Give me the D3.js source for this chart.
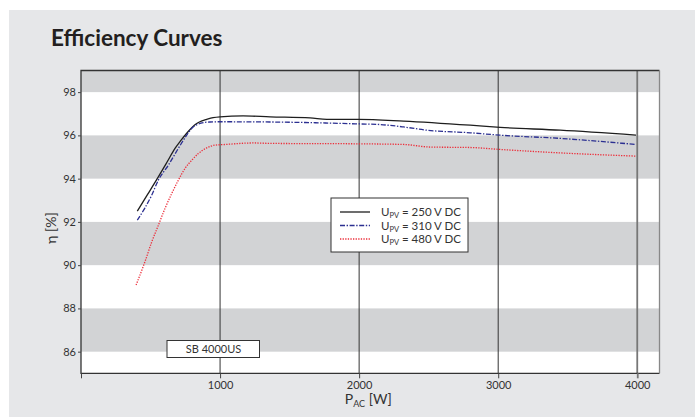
<!DOCTYPE html>
<html>
<head>
<meta charset="utf-8">
<script src="https://cdn.jsdelivr.net/npm/d3@7"></script>
<style>
  html, body { margin: 0; padding: 0; background: #fff; }
  svg { display: block; }
</style>
</head>
<body>
<svg id="chart" width="695" height="417"></svg>
<script>
// ─── Data ───────────────────────────────────────────────────────────────────
const xTicks = [0, 1000, 2000, 3000, 4000];
const yTicks = [86, 88, 90, 92, 94, 96, 98];
const grayBands = [[98, 99], [94, 96], [90, 92], [86, 88]];

const power250 = [405, 480, 556, 620, 676, 720, 760, 800, 832, 870, 904, 950, 1000, 1165, 1360, 1647, 1768, 1995, 2319, 2799, 3014, 3446, 3991];
const eta250   = [92.50, 93.28, 94.08, 94.78, 95.40, 95.78, 96.10, 96.38, 96.55, 96.67, 96.74, 96.82, 96.86, 96.90, 96.86, 96.81, 96.74, 96.74, 96.66, 96.47, 96.37, 96.24, 96.01];

const power310 = [405, 460, 509, 556, 628, 700, 760, 800, 844, 890, 928, 1000, 1360, 1995, 2151, 2319, 2487, 2799, 3014, 3446, 3991];
const eta310   = [92.08, 92.65, 93.24, 93.93, 94.62, 95.40, 96.01, 96.35, 96.52, 96.60, 96.62, 96.63, 96.62, 96.53, 96.50, 96.39, 96.24, 96.12, 96.01, 95.86, 95.58];

const power480 = [396, 460, 509, 556, 604, 653, 700, 748, 796, 844, 904, 964, 1036, 1240, 1360, 1995, 2319, 2511, 2799, 3014, 3446, 3991];
const eta480   = [89.08, 90.16, 91.08, 91.84, 92.62, 93.32, 93.93, 94.47, 94.85, 95.16, 95.42, 95.55, 95.58, 95.65, 95.63, 95.61, 95.58, 95.46, 95.44, 95.35, 95.19, 95.04];

const seriesNames = ['250 V DC', '310 V DC', '480 V DC'];

// ─── Layout ─────────────────────────────────────────────────────────────────
const W = 695, H = 417;
const P = { x0: 81, x1: 659.5, y0: 70.5, y1: 373.3 };
const FONT = 'Lato, "Open Sans", sans-serif';

const x = d3.scaleLinear().domain([0, 4160]).range([P.x0, P.x1]);
const y = d3.scaleLinear().domain([85, 99]).range([P.y1, P.y0]);

const svg = d3.select('#chart');

// panel background
svg.append('rect')
  .attr('x', 9).attr('y', 10).attr('width', W - 9).attr('height', H - 10)
  .attr('fill', '#e6e7e9');

// title
svg.append('text')
  .attr('x', 51).attr('y', 46)
  .style('font-family', FONT).style('font-weight', 700).style('font-size', '22.5px')
  .attr('fill', '#231f20')
  .text('Efficiency Curves');

// plot area + bands
svg.append('rect')
  .attr('x', P.x0).attr('y', P.y0)
  .attr('width', P.x1 - P.x0).attr('height', P.y1 - P.y0)
  .attr('fill', '#fff');

svg.append('g').selectAll('rect')
  .data(grayBands)
  .join('rect')
  .attr('x', P.x0)
  .attr('y', d => y(d[1]))
  .attr('width', P.x1 - P.x0)
  .attr('height', d => y(d[0]) - y(d[1]))
  .attr('fill', '#d2d3d5');

// vertical grid lines
svg.append('g').selectAll('line')
  .data(xTicks.filter(d => d > 0))
  .join('line')
  .attr('x1', d => x(d)).attr('x2', d => x(d))
  .attr('y1', P.y0).attr('y2', P.y1)
  .attr('stroke', d => d === 4000 ? '#777' : '#333')
  .attr('stroke-width', d => d === 4000 ? 1.8 : 1);

// ── Curves ──────────────────────────────────────────────────────────────────
const line = d3.line()
  .x(d => x(d[0]))
  .y(d => y(d[1]))
  .curve(d3.curveMonotoneX);

const styles = [
  { stroke: '#1e1e1e', width: 1.3, dash: null },
  { stroke: '#2b2f91', width: 1.3, dash: '5,1.6,1.4,1.6' },
  { stroke: '#ec2f3b', width: 1.3, dash: '1.3,1.3' },
];

const series = [
  d3.zip(power250, eta250),
  d3.zip(power310, eta310),
  d3.zip(power480, eta480),
];

svg.append('g')
  .attr('fill', 'none')
  .selectAll('path')
  .data(series)
  .join('path')
  .attr('d', line)
  .attr('stroke', (d, i) => styles[i].stroke)
  .attr('stroke-width', (d, i) => styles[i].width)
  .attr('stroke-dasharray', (d, i) => styles[i].dash);

// ── Frame ───────────────────────────────────────────────────────────────────
svg.append('path')
  .attr('d', `M${P.x1},${P.y0}H${P.x0}V${P.y1}H${P.x1}`)
  .attr('fill', 'none').attr('stroke', '#333').attr('stroke-width', 1.3);
svg.append('line')
  .attr('x1', P.x1).attr('x2', P.x1).attr('y1', P.y0).attr('y2', P.y1)
  .attr('stroke', '#888').attr('stroke-width', 1.3);

// ── Axes ────────────────────────────────────────────────────────────────────
const xAxis = svg.append('g')
  .attr('transform', `translate(0,${P.y1})`)
  .call(d3.axisBottom(x).tickValues(xTicks).tickFormat(d => d === 0 ? '' : d)
    .tickSize(5).tickSizeOuter(0).tickPadding(3));

const yAxis = svg.append('g')
  .attr('transform', `translate(${P.x0},0)`)
  .call(d3.axisLeft(y).tickValues(yTicks).tickSize(3).tickSizeOuter(0).tickPadding(2));

[xAxis, yAxis].forEach(g => {
  g.select('.domain').remove();
  g.selectAll('line').attr('stroke', '#444');
  g.selectAll('text')
    .style('font-family', FONT).style('font-size', '11px')
    .attr('fill', '#333');
});
xAxis.selectAll('.tick').filter(d => d === 4000).select('line')
  .attr('stroke', '#777').attr('stroke-width', 1.8);

// axis titles
const xLabel = svg.append('text')
  .attr('x', (P.x0 + P.x1) / 2 - 2).attr('y', 404)
  .attr('text-anchor', 'middle')
  .style('font-family', FONT).style('font-size', '14px')
  .attr('fill', '#333');
xLabel.append('tspan').text('P');
xLabel.append('tspan').attr('dy', 3).style('font-size', '9px').text('AC');
xLabel.append('tspan').attr('dy', -3).text(' [W]');

svg.append('text')
  .attr('transform', `translate(56,${(P.y0 + P.y1) / 2 + 6}) rotate(-90)`)
  .attr('text-anchor', 'middle')
  .style('font-family', FONT).style('font-size', '14px')
  .attr('fill', '#333')
  .text('η [%]');

// ── Legend ──────────────────────────────────────────────────────────────────
const legend = svg.append('g').attr('transform', 'translate(331,198)');
legend.append('rect')
  .attr('width', 137).attr('height', 54)
  .attr('fill', '#fff').attr('stroke', '#333').attr('stroke-width', 1);

const row = legend.selectAll('g')
  .data(seriesNames)
  .join('g')
  .attr('transform', (d, i) => `translate(0,${14 + i * 13.5})`);

row.append('line')
  .attr('x1', 9).attr('x2', 39)
  .attr('stroke', (d, i) => styles[i].stroke)
  .attr('stroke-width', (d, i) => styles[i].width)
  .attr('stroke-dasharray', (d, i) => styles[i].dash);

const lt = row.append('text')
  .attr('x', 50).attr('y', 4)
  .style('font-family', FONT).style('font-size', '11.5px')
  .attr('fill', '#333');
lt.append('tspan').text('U');
lt.append('tspan').attr('dy', 2).style('font-size', '7.5px').text('PV');
lt.append('tspan').attr('dy', -2).text(d => ` = ${d}`);

// model tag
const tag = svg.append('g').attr('transform', 'translate(167,340.5)');
tag.append('rect')
  .attr('width', 92.5).attr('height', 17)
  .attr('fill', '#fff').attr('stroke', '#333').attr('stroke-width', 1);
tag.append('text')
  .attr('x', 46.5).attr('y', 12.5)
  .attr('text-anchor', 'middle')
  .style('font-family', FONT).style('font-size', '11px')
  .attr('fill', '#333')
  .text('SB 4000US');
</script>
</body>
</html>
